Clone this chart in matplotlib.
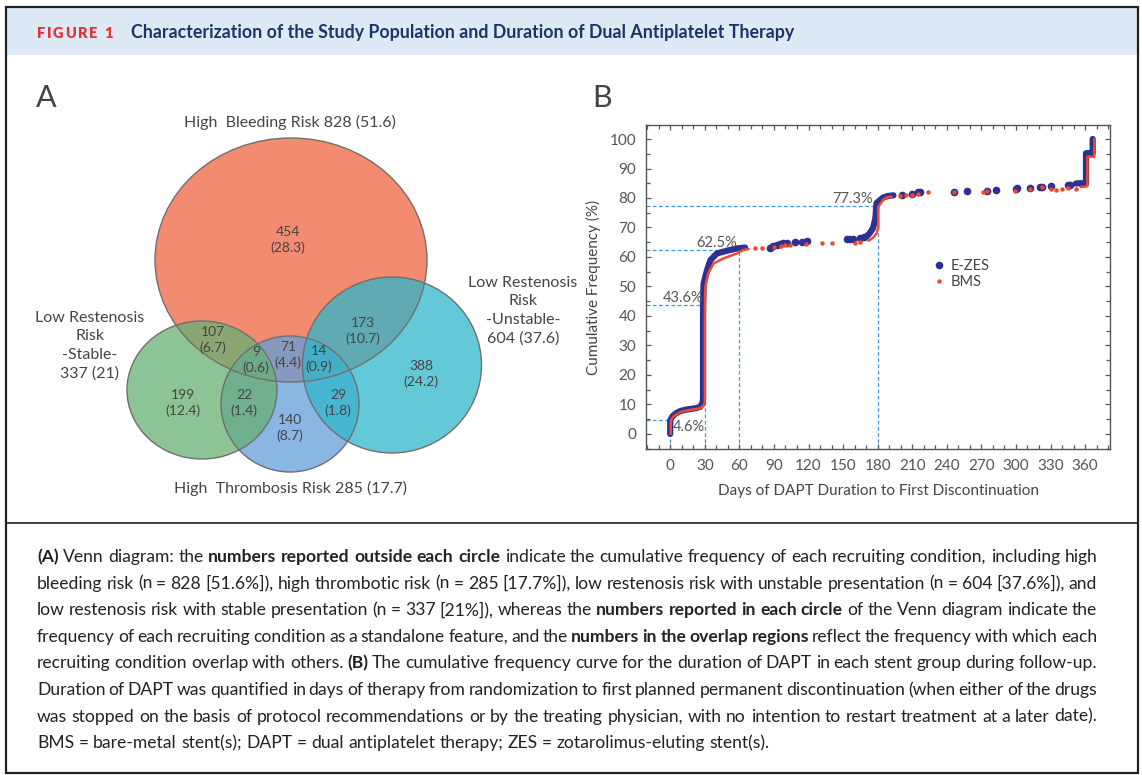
import matplotlib
matplotlib.use('Agg')
import matplotlib.pyplot as plt
from matplotlib.patches import Ellipse, Rectangle
from matplotlib.lines import Line2D
import numpy as np

plt.rcParams['font.family'] = ['Lato', 'DejaVu Sans']

# ---------------- panel A : Venn data ----------------
set_names = ['High  Bleeding Risk', 'High  Thrombosis Risk',
             'Low Restenosis\nRisk\n-Stable-', 'Low Restenosis\nRisk\n-Unstable-']
set_totals = [828, 285, 337, 604]
set_pcts = ['51.6', '17.7', '21', '37.6']

region_counts = [454, 107, 9, 71, 14, 173, 199, 22, 140, 29, 388]
region_pcts = ['28.3', '6.7', '0.6', '4.4', '0.9', '10.7', '12.4', '1.4', '8.7', '1.8', '24.2']

# ---------------- panel B : cumulative DAPT duration ----------------
# dense runs (many overlapping dots) -> drawn as thick strokes, NaN splits runs
ezes_run_days = [0, 0, 2, 5, 9, 13, 18, 23, 26, 28, 28.5, 28.5, 29, 32, 35, 40.5, 49, 58, 65, np.nan,
                 170.6, 173, 176, 178, 179, 182, 185, 189, 193.7, np.nan,
                 352, 355, 360.8, 360.8, 366, 366.6, 366.6]
ezes_run_pct = [0, 4.6, 6, 7, 7.8, 8.2, 8.5, 8.8, 9.2, 10.5, 12, 44, 51, 55.6, 59, 61.2, 62.1, 62.9, 63.2, np.nan,
                67, 68, 69.8, 73, 78.2, 79.3, 80.2, 80.7, 80.9, np.nan,
                84.9, 85, 85, 95.2, 95.2, 95.2, 100]
ezes_dot_days = [86.7, 89.6, 92.5, 95, 98, 101, 108, 114, 118.6, 153, 156, 159, 165, 168,
                 201, 209.6, 215, 216.8, 246.6, 257.3, 275, 283, 299.8, 300.5, 312, 321, 323,
                 330.4, 345.5, 347]
ezes_dot_pct = [62.9, 63.7, 64, 64.3, 64.6, 64.9, 65.2, 65.2, 65.5, 66, 66.1, 66, 66.5, 66.8,
                81.1, 81.4, 81.9, 82, 82.1, 82.4, 82.4, 82.7, 83.2, 83.4, 83.5, 83.7, 83.7,
                84.2, 84.4, 84.5]

bms_run_days = [0.5, 0.5, 2.5, 6, 10, 15, 20, 25, 29, 30, 30, 30.5, 33, 37.6, 46, 58, 63.6, 68, np.nan,
                172, 176, 179, 180.6, 180.6, 182.7, 185, 188, 192, np.nan,
                356, 358.5, 362, 362, 368, 368]
bms_run_pct = [0, 4.4, 5.8, 6.8, 7.6, 8, 8.3, 8.6, 9.5, 11, 40, 50, 54.5, 57.8, 59.5, 61.2, 62.4, 62.7, np.nan,
               65.5, 66.5, 68, 70, 77, 78.2, 79.5, 80.2, 80.5, np.nan,
               83.7, 83.8, 84, 94, 94, 100]
bms_dot_days = [74, 80, 90, 96, 100, 104, 118, 131.6, 140, 160, 165,
                199.5, 205, 209.6, 215, 224, 246.6, 271, 275, 299, 312, 323, 330.7, 335,
                339.7, 345, 352]
bms_dot_pct = [63, 63.2, 63.5, 63.8, 64, 64.2, 64.3, 64.6, 64.6, 64.9, 65.2,
               80.7, 80.9, 81, 81.5, 81.9, 82, 82.1, 82.3, 82.5, 83, 83.6, 83, 82.7,
               83, 83.3, 83.2]

ref_days = [0, 30, 60, 180]
ref_pct = [4.6, 43.6, 62.5, 77.3]

caption = [
    [('(A)', True), (' Venn diagram: the ', False), ('numbers reported outside each circle', True),
     (' indicate the cumulative frequency of each recruiting condition, including high', False)],
    [('bleeding risk (n = 828 [51.6%]), high thrombotic risk (n = 285 [17.7%]), low restenosis risk with unstable presentation (n = 604 [37.6%]), and', False)],
    [('low restenosis risk with stable presentation (n = 337 [21%]), whereas the ', False),
     ('numbers reported in each circle', True), (' of the Venn diagram indicate the', False)],
    [('frequency of each recruiting condition as a standalone feature, and the ', False),
     ('numbers in the overlap regions', True), (' reflect the frequency with which each', False)],
    [('recruiting condition overlap with others. ', False), ('(B)', True),
     (' The cumulative frequency curve for the duration of DAPT in each stent group during follow-up.', False)],
    [('Duration of DAPT was quantified in days of therapy from randomization to first planned permanent discontinuation (when either of the drugs', False)],
    [('was stopped on the basis of protocol recommendations or by the treating physician, with no intention to restart treatment at a later date).', False)],
    [('BMS = bare-metal stent(s); DAPT = dual antiplatelet therapy; ZES = zotarolimus-eluting stent(s).', False)],
]

# ---------------- figure ----------------
fig = plt.figure(figsize=(11.42, 7.75), dpi=100)
bg = fig.add_axes([0, 0, 1, 1])
bg.set_xlim(0, 1142)
bg.set_ylim(775, 0)
bg.axis('off')
r = fig.canvas.get_renderer()


def width_of(t):
    return t.get_window_extent(r).width


bg.add_patch(Rectangle((7, 8), 1131, 47, fc='#dde9f5', ec='none', zorder=0))
bg.add_patch(Rectangle((6, 7), 1132, 766, fill=False, ec='#222222', lw=1.6, zorder=5))
bg.plot([6, 1138], [523, 523], color='#222222', lw=1.2)

# "FIGURE 1" with letter spacing
x = 37
for ch in 'FIGURE 1':
    t = bg.text(x, 38, ch, color='#e5323a', fontsize=10.5, fontweight='heavy', va='baseline')
    x += (width_of(t) if ch != ' ' else 4) + 1.6
title = bg.text(131, 38, 'Characterization of the Study Population and Duration of Dual Antiplatelet Therapy',
                color='#1b3566', fontsize=11, fontweight='bold', va='baseline')
title.set_fontsize(11 * 659 / width_of(title))

txt_col = '#444444'
bg.text(36, 98, 'A', fontsize=22, color=txt_col, va='center')
bg.text(592, 98, 'B', fontsize=22, color=txt_col, va='center')

# Venn shapes: red, blue, green, cyan (drawing order)
venn_shapes = [((291, 260), 272, 244, '#ef6440'),
               ((290, 404), 138, 136, '#639edb'),
               ((202, 390), 150, 138, '#67b073'),
               ((392, 365), 179, 176, '#2fb6cb')]
for (cx, cy), w, h, c in venn_shapes:
    bg.add_patch(Ellipse((cx, cy), w, h, fc=c, alpha=0.75, ec='none', zorder=1))
    bg.add_patch(Ellipse((cx, cy), w, h, fill=False, ec='#6f6f6f', lw=1.0, zorder=2))

set_xy = [(290, 122), (291, 488), (90, 346), (523, 311)]
for (x, y), name, n, p in zip(set_xy, set_names, set_totals, set_pcts):
    bg.text(x, y, f'{name}\n{n} ({p})' if '\n' in name else f'{name} {n} ({p})',
            ha='center', va='center', fontsize=11.5, color=txt_col, linespacing=1.42, zorder=3)

region_xy = [(288, 240), (213, 340), (256, 360), (288, 355), (319, 359), (363, 331),
             (183, 403), (244, 403), (290, 428), (338, 403), (421, 374)]
for (x, y), n, p in zip(region_xy, region_counts, region_pcts):
    bg.text(x, y, f'{n}\n({p})', ha='center', va='center', fontsize=10,
            color=txt_col, linespacing=1.3, zorder=3)

# ---------------- panel B axes ----------------
navy = '#2e3192'
red = '#f04a2c'
dash = '#3b9ae1'
ax = fig.add_axes([646 / 1142, (775 - 449) / 775, (1110 - 646) / 1142, (449 - 125) / 775])
ax.set_xlim(-21, 381.6)
ax.set_ylim(-5.1, 104.75)

for d, p in zip(ref_days, ref_pct):
    ax.plot([-21, d], [p, p], color=dash, lw=0.9, ls=(0, (3, 2)), zorder=1)
    ax.plot([d, d], [-5.1, p], color=dash, lw=0.9, ls=(0, (3, 2)), zorder=1)

ax.plot(ezes_run_days, ezes_run_pct, color=navy, lw=4.5, solid_capstyle='round', zorder=2)
ax.plot(ezes_dot_days, ezes_dot_pct, 'o', color=navy, ms=4.5, zorder=2)
ax.plot(bms_run_days, bms_run_pct, color=red, lw=1.8, solid_capstyle='round', zorder=3)
ax.plot(bms_dot_days, bms_dot_pct, 'o', color=red, ms=2.2, zorder=3)

lab_kw = dict(fontsize=10.5, color='#555555')
ax.text(2, 4.6, f'{ref_pct[0]}%', ha='left', va='top', **lab_kw)
ax.text(28.5, 43.6, f'{ref_pct[1]}%', ha='right', va='bottom', **lab_kw)
ax.text(58, 62.5, f'{ref_pct[2]}%', ha='right', va='bottom', **lab_kw)
ax.text(176, 77.3, f'{ref_pct[3]}%', ha='right', va='bottom', **lab_kw)

handles = [Line2D([], [], marker='o', ls='none', color=navy, ms=4.5),
           Line2D([], [], marker='o', ls='none', color=red, ms=2.2)]
ax.legend(handles, ['E-ZES', 'BMS'], loc='upper left', bbox_to_anchor=(0.607, 0.61), frameon=False,
          fontsize=10.5, handlelength=0.6, handletextpad=0.5, labelspacing=0.15, borderpad=0,
          labelcolor='#444444')

ax.set_xticks(range(0, 361, 30))
ax.set_xticks(range(-20, 381, 10), minor=True)
ax.set_yticks(range(0, 101, 10))
ax.set_yticks(range(-5, 105, 5), minor=True)
ax.tick_params(which='both', direction='in', top=True, right=True, color='#555555',
               labelcolor='#555555', labelsize=11, pad=7)
ax.tick_params(which='major', length=3.5, width=0.9)
ax.tick_params(which='minor', length=3, width=0.9)
for s in ax.spines.values():
    s.set_color('#555555')
    s.set_linewidth(1.0)
ax.set_xlabel('Days of DAPT Duration to First Discontinuation', fontsize=11, color=txt_col, labelpad=8)
ax.set_ylabel('Cumulative Frequency (%)', fontsize=11, color=txt_col, labelpad=6)

# ---------------- caption (justified) ----------------
x0, x1 = 37, 1097


def words_of(segs):
    out = []
    for t, b in segs:
        for w in t.split(' '):
            if w:
                out.append((w, b))
    return out


def natural_width(segs, fs):
    ws = words_of(segs)
    objs = [bg.text(0, 0, w, fontsize=fs, fontweight='bold' if b else 'normal') for w, b in ws]
    tot = sum(width_of(o) for o in objs)
    for o in objs:
        o.remove()
    return tot, len(ws)


base_fs = 10.0
sp = bg.text(0, 0, 'x x', fontsize=base_fs)
sp2 = bg.text(0, 0, 'xx', fontsize=base_fs)
space_base = width_of(sp) - width_of(sp2)
sp.remove()
sp2.remove()
nat = [natural_width(s, base_fs) for s in caption]
# last line spans 37..787 in the reference; keep longest line inside the box
fs_last = base_fs * 750 / (nat[-1][0] + space_base * (nat[-1][1] - 1))
fs_max = min(base_fs * (1050 - 0) / (w + space_base * 0.6 * (n - 1)) for w, n in nat[:-1])
cap_fs = min(fs_last, fs_max)
space_w = space_base * cap_fs / base_fs

for i, segs in enumerate(caption):
    y = 562 + i * 26.6
    ws = words_of(segs)
    objs = [bg.text(0, y, w, fontsize=cap_fs, fontweight='bold' if b else 'normal',
                    color='#222222', va='baseline', ha='left') for w, b in ws]
    widths = [width_of(o) for o in objs]
    if i < len(caption) - 1:
        gap = (x1 - x0 - sum(widths)) / (len(objs) - 1)
    else:
        gap = space_w
    x = x0
    for o, w in zip(objs, widths):
        o.set_x(x)
        x += w + gap

fig.savefig('out.png', dpi=100)
